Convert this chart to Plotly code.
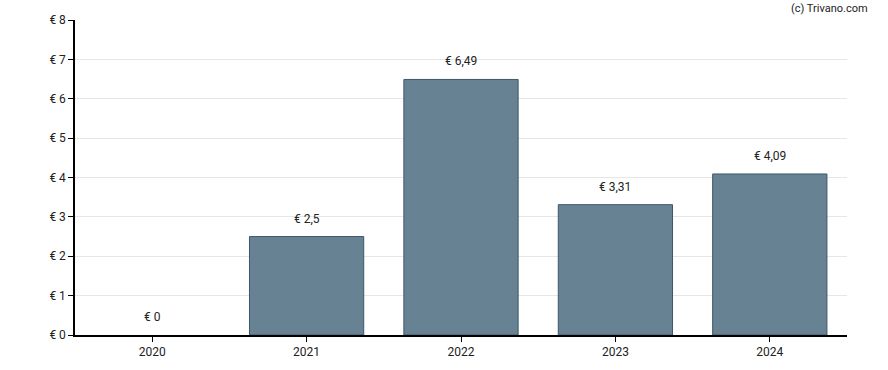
import plotly.graph_objects as go

years = ["2020", "2021", "2022", "2023", "2024"]
values = [0, 2.5, 6.49, 3.31, 4.09]
labels = ["€ 0", "€ 2,5", "€ 6,49", "€ 3,31", "€ 4,09"]

fig = go.Figure()
fig.add_trace(go.Bar(
    x=years, y=values,
    marker=dict(color="#668293",
                line=dict(color="#3f5667", width=[0 if v == 0 else 1 for v in values])),
    hoverinfo="skip"))

for i, (v, t) in enumerate(zip(values, labels)):
    fig.add_annotation(x=i, y=v, text=t, showarrow=False, yshift=18,
                       yanchor="middle", font=dict(size=12, color="#222"))

fig.add_annotation(xref="paper", yref="paper", x=1.03, y=1.0, yshift=12,
                   xanchor="right", yanchor="middle", text="(c) Trivano.com",
                   showarrow=False, font=dict(size=11, color="#222"))

fig.update_layout(
    width=888, height=370,
    margin=dict(l=75, r=41, t=20, b=35, autoexpand=False),
    plot_bgcolor="white", paper_bgcolor="white",
    font=dict(family="Roboto, sans-serif", size=12, color="#222"),
    separators=",.",
    showlegend=False,
    bargap=0.26,
)
fig.update_xaxes(type="category", categoryarray=years, categoryorder="array",
                 range=[-0.5, 4.5],
                 showline=True, linecolor="black", linewidth=1.5,
                 ticks="outside", ticklen=5, tickcolor="black",
                 showgrid=False, tickfont=dict(size=12), automargin=False)
fig.update_yaxes(range=[0, 8], dtick=1, tickprefix="€ ", showline=True,
                 linecolor="black", linewidth=1.5, ticks="outside", ticklen=5,
                 tickcolor="black", gridcolor="#e6e6e6", zeroline=False,
                 tickfont=dict(size=12), automargin=False)

fig.write_html("out.html", config={"displayModeBar": False},
               post_script="document.body.style.margin='0';document.body.style.padding='0';")
